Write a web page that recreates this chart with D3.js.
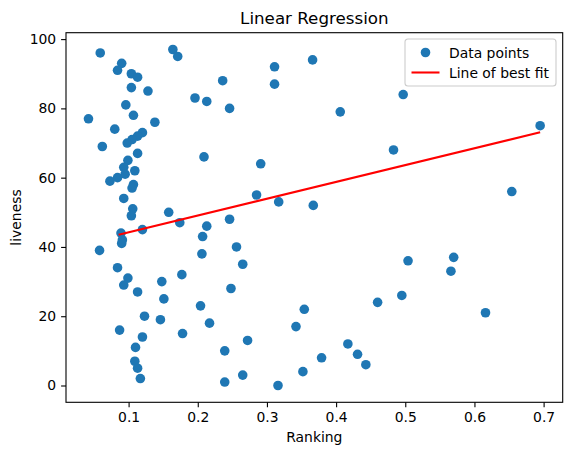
<!DOCTYPE html>
<html>
<head>
<meta charset="utf-8">
<script src="https://cdn.jsdelivr.net/npm/d3@7"></script>
<style>
  body { margin: 0; background: #fff; }
  text { font-family: "DejaVu Sans", sans-serif; }
</style>
</head>
<body>
<div id="canvas"></div>
<script>
// ranking (x) and liveness (y)
const ranking = [
    0.059, 0.164, 0.171, 0.090, 0.084, 0.104, 0.113, 0.104, 0.128, 0.096,
    0.107, 0.042, 0.138, 0.080, 0.120, 0.113, 0.105, 0.098, 0.062, 0.113,
    0.099, 0.093, 0.109, 0.095, 0.084, 0.073, 0.107, 0.105, 0.093, 0.106,
    0.158, 0.311, 0.366, 0.236, 0.311, 0.196, 0.213, 0.246, 0.406, 0.209,
    0.291, 0.483, 0.285, 0.317, 0.367, 0.497, 0.695, 0.654, 0.504, 0.570,
    0.566, 0.460, 0.495, 0.616, 0.174, 0.213, 0.246, 0.207, 0.206, 0.256,
    0.265, 0.148, 0.177, 0.151, 0.248, 0.204, 0.146, 0.217, 0.178, 0.354,
    0.342, 0.272, 0.239, 0.417, 0.431, 0.379, 0.443, 0.352, 0.265, 0.239,
    0.316, 0.104, 0.120, 0.089, 0.091, 0.090, 0.058, 0.084, 0.099, 0.093,
    0.113, 0.123, 0.087, 0.120, 0.110, 0.109, 0.113, 0.117
];
const liveness = [
    96, 97, 95, 93, 91, 90, 89, 86, 85, 81,
    78, 77, 76, 74, 73, 72, 71, 70, 69, 67,
    65, 63, 62, 61, 60, 59, 58, 57, 54, 51,
    50, 92, 94, 88, 87, 83, 82, 80, 79, 66,
    64, 68, 55, 53, 52, 84, 75, 56, 36, 37,
    33, 24, 26, 21, 47, 46, 48, 43, 38, 40,
    35, 30, 32, 25, 28, 23, 19, 18, 15, 22,
    17, 13, 10, 12, 9, 8, 6, 4, 3, 1,
    0, 49, 45, 44, 42, 41, 39, 34, 31, 29,
    27, 20, 16, 14, 11, 7, 5, 2
];

// fitted line end points
const fitX = [0.0855, 0.695];
const fitY = [43.5, 73.1];

const xTicks = [0.1, 0.2, 0.3, 0.4, 0.5, 0.6, 0.7];
const yTicks = [0, 20, 40, 60, 80, 100];

const W = 571, H = 455;
const margin = { top: 32.7, right: 8.3, bottom: 52.7, left: 66 };
const width = W - margin.left - margin.right,
    height = H - margin.top - margin.bottom;

const svg = d3.select("#canvas")
    .append("svg")
    .attr("width", W)
    .attr("height", H);

const g = svg.append("g")
    .attr("transform", `translate(${margin.left},${margin.top})`);

const x = d3.scaleLinear()
    .domain([0.0095, 0.7276])
    .range([0, width]);

const y = d3.scaleLinear()
    .domain([-4.85, 101.85])
    .range([height, 0]);

// axes
const xAxis = g.append("g")
    .attr("transform", `translate(0,${height})`)
    .call(d3.axisBottom(x).tickValues(xTicks).tickFormat(d3.format(".1f")).tickSize(4.9).tickPadding(4.9));

const yAxis = g.append("g")
    .call(d3.axisLeft(y).tickValues(yTicks).tickFormat(d3.format("d")).tickSize(4.9).tickPadding(4.9));

[xAxis, yAxis].forEach(a => {
    a.select(".domain").remove();
    a.selectAll(".tick line").attr("stroke", "#000").attr("stroke-width", 1.1);
    a.selectAll(".tick text")
        .attr("fill", "#000")
        .style("font-size", "13.9px")
        .style("font-family", "DejaVu Sans");
});

// points
const pts = ranking.map((r, i) => ({ r: r, l: liveness[i] }));
g.append("g")
    .selectAll("circle")
    .data(pts)
    .join("circle")
    .attr("cx", d => x(d.r))
    .attr("cy", d => y(d.l))
    .attr("r", 4.8)
    .attr("fill", "#1f77b4");

// line of best fit
g.append("path")
    .datum(fitX.map((v, i) => [v, fitY[i]]))
    .attr("fill", "none")
    .attr("stroke", "#ff0000")
    .attr("stroke-width", 2.08)
    .attr("d", d3.line()
        .x(d => x(d[0]))
        .y(d => y(d[1]))
    );

// frame
g.append("rect")
    .attr("width", width)
    .attr("height", height)
    .attr("fill", "none")
    .attr("stroke", "#000")
    .attr("stroke-width", 1.1);

// title and labels
svg.append("text")
    .attr("x", margin.left + width / 2)
    .attr("y", 24)
    .attr("text-anchor", "middle")
    .style("font-size", "16.7px")
    .text("Linear Regression");

svg.append("text")
    .attr("x", margin.left + width / 2)
    .attr("y", 442)
    .attr("text-anchor", "middle")
    .style("font-size", "13.9px")
    .text("Ranking");

svg.append("text")
    .attr("transform", `translate(21,${margin.top + height / 2}) rotate(-90)`)
    .attr("text-anchor", "middle")
    .style("font-size", "13.9px")
    .text("liveness");

// legend
const leg = svg.append("g").attr("transform", "translate(405,39)");
leg.append("rect")
    .attr("width", 151)
    .attr("height", 47)
    .attr("rx", 3)
    .attr("fill", "#fff")
    .attr("fill-opacity", 0.8)
    .attr("stroke", "#cccccc")
    .attr("stroke-width", 1.1);
leg.append("circle")
    .attr("cx", 20.5)
    .attr("cy", 13.5)
    .attr("r", 4.8)
    .attr("fill", "#1f77b4");
leg.append("text")
    .attr("x", 44)
    .attr("y", 18.5)
    .style("font-size", "13.9px")
    .text("Data points");
leg.append("line")
    .attr("x1", 6.5).attr("x2", 34.5)
    .attr("y1", 33.5).attr("y2", 33.5)
    .attr("stroke", "#ff0000")
    .attr("stroke-width", 2.08);
leg.append("text")
    .attr("x", 44)
    .attr("y", 38.5)
    .style("font-size", "13.9px")
    .text("Line of best fit");
</script>
</body>
</html>
